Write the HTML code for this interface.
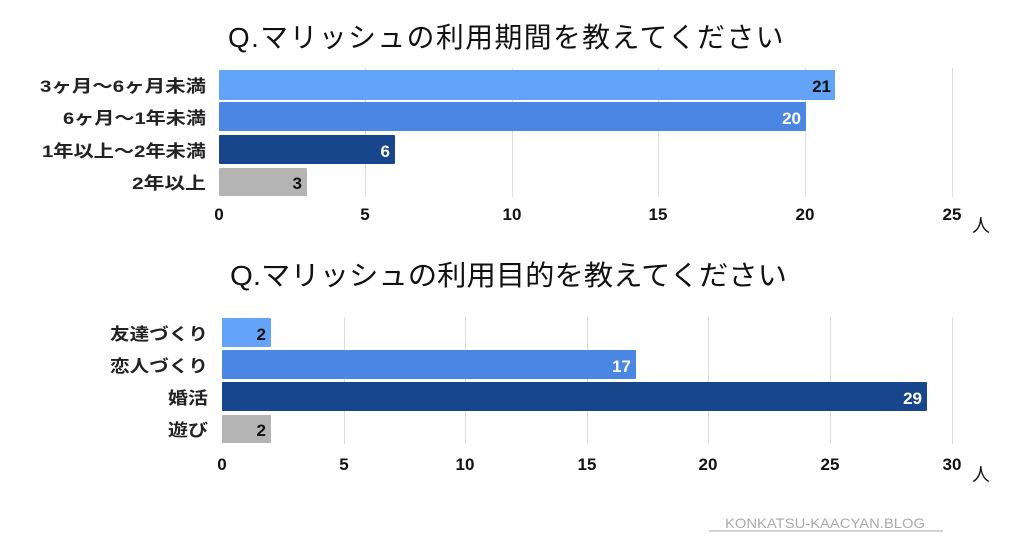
<!DOCTYPE html>
<html><head><meta charset="utf-8"><style>
body{margin:0;background:#fff}
text{font-family:"Liberation Sans","Noto Sans CJK JP",sans-serif}
</style></head><body>
<svg width="1024" height="538" viewBox="0 0 1024 538" xmlns="http://www.w3.org/2000/svg">
<rect width="1024" height="538" fill="#fff"/>
<text x="228" y="47" font-size="28" fill="#111" letter-spacing="1.5" textLength="557" lengthAdjust="spacingAndGlyphs">Q.マリッシュの利用期間を教えてください</text>
<g stroke="#ddd" stroke-width="1">
<line x1="365.5" y1="68" x2="365.5" y2="197"/><line x1="512.5" y1="68" x2="512.5" y2="197"/>
<line x1="658.5" y1="68" x2="658.5" y2="197"/><line x1="805.5" y1="68" x2="805.5" y2="197"/><line x1="952.5" y1="68" x2="952.5" y2="197"/>
</g>
<rect x="219" y="70" width="616" height="30" fill="#64a4f8" rx="1"/>
<rect x="219" y="102" width="587" height="29" fill="#4a86e4" rx="1"/>
<rect x="219" y="135" width="176" height="29" fill="#17468c" rx="1"/>
<rect x="219" y="168" width="88" height="28" fill="#b4b4b4" rx="1"/>
<g font-size="17" font-weight="bold" text-anchor="end">
<text x="831" y="92" fill="#111">21</text><text x="801" y="124" fill="#fff">20</text>
<text x="390" y="157" fill="#fff">6</text><text x="302" y="189" fill="#111">3</text>
</g>
<g font-size="17" font-weight="bold" fill="#222">
<text x="40" y="92" textLength="166" lengthAdjust="spacingAndGlyphs">3ヶ月～6ヶ月未満</text>
<text x="63" y="124" textLength="143" lengthAdjust="spacingAndGlyphs">6ヶ月～1年未満</text>
<text x="42" y="157" textLength="164" lengthAdjust="spacingAndGlyphs">1年以上～2年未満</text>
<text x="132" y="189" textLength="74" lengthAdjust="spacingAndGlyphs">2年以上</text>
</g>
<g font-size="17" font-weight="bold" text-anchor="middle" fill="#111">
<text x="219" y="220">0</text><text x="365" y="220">5</text><text x="512" y="220">10</text>
<text x="658" y="220">15</text><text x="805" y="220">20</text><text x="952" y="220">25</text>
</g>
<text x="972" y="232" font-size="18" fill="#111">人</text>

<text x="230" y="285" font-size="28" fill="#111" textLength="557" lengthAdjust="spacingAndGlyphs">Q.マリッシュの利用目的を教えてください</text>
<g stroke="#ddd" stroke-width="1">
<line x1="344.5" y1="317" x2="344.5" y2="444"/><line x1="465.5" y1="317" x2="465.5" y2="444"/>
<line x1="587.5" y1="317" x2="587.5" y2="444"/><line x1="708.5" y1="317" x2="708.5" y2="444"/>
<line x1="830.5" y1="317" x2="830.5" y2="444"/><line x1="952.5" y1="317" x2="952.5" y2="444"/>
</g>
<rect x="222" y="318" width="49" height="29" fill="#64a4f8" rx="1"/>
<rect x="222" y="350" width="414" height="29" fill="#4a86e4" rx="1"/>
<rect x="222" y="382" width="705" height="29" fill="#17468c" rx="1"/>
<rect x="222" y="415" width="49" height="28" fill="#b4b4b4" rx="1"/>
<g font-size="17" font-weight="bold" text-anchor="end">
<text x="266" y="340" fill="#111">2</text><text x="631" y="372" fill="#fff">17</text>
<text x="922" y="404" fill="#fff">29</text><text x="266" y="436" fill="#111">2</text>
</g>
<g font-size="17" font-weight="bold" fill="#222">
<text x="110" y="340" textLength="98" lengthAdjust="spacingAndGlyphs">友達づくり</text>
<text x="110" y="372" textLength="98" lengthAdjust="spacingAndGlyphs">恋人づくり</text>
<text x="168" y="404" textLength="40" lengthAdjust="spacingAndGlyphs">婚活</text>
<text x="168" y="436" textLength="40" lengthAdjust="spacingAndGlyphs">遊び</text>
</g>
<g font-size="17" font-weight="bold" text-anchor="middle" fill="#111">
<text x="222" y="470">0</text><text x="344" y="470">5</text><text x="465" y="470">10</text>
<text x="587" y="470">15</text><text x="708" y="470">20</text><text x="830" y="470">25</text><text x="952" y="470">30</text>
</g>
<text x="972" y="481" font-size="18" fill="#111">人</text>
<text x="725" y="528" font-size="14" fill="#aaa" textLength="200" lengthAdjust="spacingAndGlyphs">KONKATSU-KAACYAN.BLOG</text>
<line x1="709" y1="531" x2="943" y2="531" stroke="#aaa" stroke-width="1"/>
</svg>
</body></html>
